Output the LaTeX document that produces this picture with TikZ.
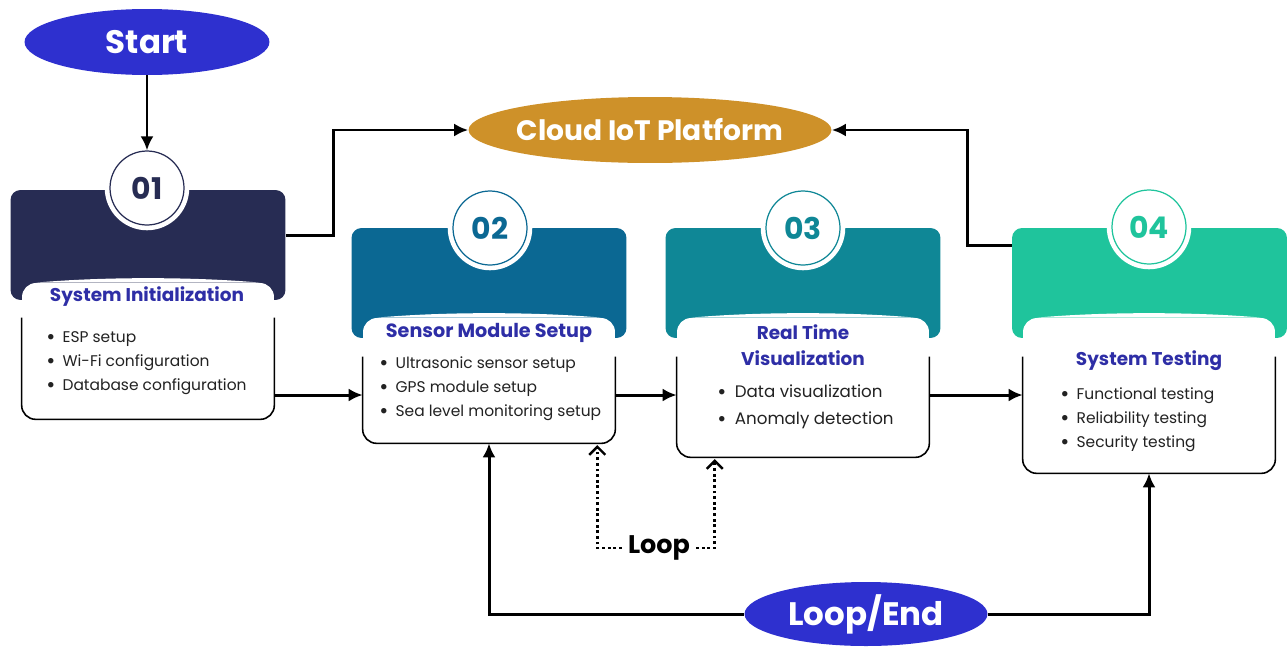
\documentclass[tikz,border=0pt]{standalone}
\usepackage{fontspec}
\setmainfont{Poppins}
\usetikzlibrary{shapes.geometric, arrows, arrows.meta, positioning, calc}
\definecolor{flowblue}{HTML}{2E30CF}
\definecolor{cloudgold}{HTML}{CE9129}
\definecolor{navy}{HTML}{272C53}
\definecolor{sensorblue}{HTML}{0B6893}
\definecolor{vizteal}{HTML}{0F8796}
\definecolor{testgreen}{HTML}{1FC49C}
\definecolor{titleblue}{HTML}{2E2EA6}
\definecolor{bodytext}{HTML}{222222}
\newcommand{\itm}{\makebox[1.05em][l]{\raisebox{-0.12em}{\fontsize{12.5}{12}\selectfont•}}}
\tikzstyle{arrow}    = [line width=1.7pt,-{Latex[length=2.8mm,width=2.6mm]}]
\tikzstyle{dotarrow} = [line width=1.6pt,dash pattern=on 1.6pt off 1.6pt,-{Straight Barb[length=1.6mm,width=3.2mm,line width=1.4pt]},shorten >=1pt]
\tikzstyle{pill}     = [ellipse, text=white, inner sep=0pt, font=\bfseries\fontsize{18.5}{20}\selectfont]
\tikzstyle{header}   = [rectangle, rounded corners=0.2cm, minimum width=5.5cm, minimum height=2.2cm, inner sep=0pt]
\tikzstyle{panel}    = [rectangle, rounded corners=0.28cm, fill=white, minimum width=5.04cm, inner sep=0pt]
\tikzstyle{badge}    = [circle, fill=white, line width=0.7pt, minimum size=1.48cm, inner sep=0pt, font=\bfseries\fontsize{17}{18}\selectfont, preaction={draw=white, line width=6pt}]
\tikzstyle{title}    = [font=\bfseries\fontsize{10.5}{14.7}\selectfont, text=titleblue, align=center]
\tikzstyle{items}    = [font=\fontsize{8.8}{13.6}\selectfont, text=bodytext, align=left, anchor=west, inner sep=0pt]
\tikzstyle{border}   = [line width=0.9pt, rounded corners=0.28cm]
\begin{document}
\begin{tikzpicture}[x=0.02cm, y=-0.02cm]
\useasboundingbox (0,0) rectangle (1287,646);

% start, platforma, konec
\node[pill, fill=flowblue, minimum width=4.9cm, minimum height=1.32cm] (start) at (147,42) {Start};
\node[pill, fill=cloudgold, minimum width=7.26cm, minimum height=1.32cm, inner xsep=-1.2cm, font=\bfseries\fontsize{16}{18}\selectfont] (cloud) at (650,130) {Cloud IoT Platform};
\node[pill, fill=flowblue, minimum width=4.86cm, minimum height=1.28cm] (loopend) at (866,614) {Loop/End};

% karta 01
\node[header, fill=navy] (h1) at (148,245) {};
\node[panel, minimum height=2.72cm] (p1) at (148,351) {};
\fill[white] ($(p1.north west)+(14,0)$) .. controls ($(p1.north west)+(80,-6)$) and ($(p1.north east)+(-80,-6)$) .. ($(p1.north east)+(-14,0)$) -- cycle;
\draw[border] ($(p1.north west)+(0,35)$) -- (p1.south west) -- (p1.south east) -- ($(p1.north east)+(0,35)$);
\node[badge, draw=navy, text=navy] (n1) at (147,188) {01};
\node[title] (t1) at (147,297) {System Initialization};
\node[items] (l1) at (46,363) {\itm ESP setup\\ \itm Wi-Fi configuration\\ \itm Database configuration};

% karta 02
\node[header, fill=sensorblue] (h2) at (489,283) {};
\node[panel, minimum height=2.5cm] (p2) at (489,380.5) {};
\fill[white] ($(p2.north west)+(14,0)$) .. controls ($(p2.north west)+(80,-6)$) and ($(p2.north east)+(-80,-6)$) .. ($(p2.north east)+(-14,0)$) -- cycle;
\draw[border] ($(p2.north west)+(0,39)$) -- (p2.south west) -- (p2.south east) -- ($(p2.north east)+(0,39)$);
\node[badge, draw=sensorblue, text=sensorblue] (n2) at (490,228) {02};
\node[title, font=\bfseries\fontsize{10.9}{14.7}\selectfont] (t2) at (489,333) {Sensor Module Setup};
\node[items] (l2) at (379,389) {\itm Ultrasonic sensor setup\\ \itm GPS module setup\\ \itm Sea level monitoring setup};

% karta 03
\node[header, fill=vizteal] (h3) at (803,283) {};
\node[panel, minimum height=2.78cm] (p3) at (803,387.5) {};
\fill[white] ($(p3.north west)+(14,0)$) .. controls ($(p3.north west)+(80,-6)$) and ($(p3.north east)+(-80,-6)$) .. ($(p3.north east)+(-14,0)$) -- cycle;
\draw[border] ($(p3.north west)+(0,39)$) -- (p3.south west) -- (p3.south east) -- ($(p3.north east)+(0,39)$);
\node[badge, draw=vizteal, text=vizteal] (n3) at (803,228) {03};
\node[title] (t3) at (803,345) {Real Time\\Visualization};
\node[items, font=\fontsize{9.5}{15.3}\selectfont] (l3) at (717,406.5) {\itm Data visualization\\ \itm Anomaly detection};

% karta 04
\node[header, fill=testgreen] (h4) at (1149.5,283) {};
\node[panel, minimum height=3.1cm] (p4) at (1149,395.5) {};
\fill[white] ($(p4.north west)+(14,0)$) .. controls ($(p4.north west)+(80,-6)$) and ($(p4.north east)+(-80,-6)$) .. ($(p4.north east)+(-14,0)$) -- cycle;
\draw[border] ($(p4.north west)+(0,39)$) -- (p4.south west) -- (p4.south east) -- ($(p4.north east)+(0,39)$);
\node[badge, draw=testgreen, text=testgreen] (n4) at (1149,227) {04};
\node[title] (t4) at (1149,361) {System Testing};
\node[items] (l4) at (1060,420) {\itm Functional testing\\ \itm Reliability testing\\ \itm Security testing};

% hlavni tok
\coordinate (flow) at (0,395);
\draw[arrow] (start) -- (n1);
\draw[arrow] (p1.east |- flow) -- (p2.west |- flow);
\draw[arrow] (p2.east |- flow) -- (p3.west |- flow);
\draw[arrow] (p3.east |- flow) -- (p4.west |- flow);

% napojeni na platformu
\draw[arrow] ([yshift=0.2cm]h1.east) -- ++(48,0) |- (cloud.west);
\draw[arrow] ([yshift=0.76cm]h4.west) -- ++(-44,0) |- (cloud.east);

% smycky
\draw[arrow] (loopend.west) -| (p2.south);
\draw[arrow] (loopend.east) -| (p4.south);
\node[font=\bfseries\fontsize{14.5}{16}\selectfont] (looptxt) at (659,548) {Loop};
\draw[dotarrow] (looptxt.west) -| ($(p2.south east)+(-18,0)$);
\draw[dotarrow] (looptxt.east) -| ($(p3.south west)+(38,0)$);

\end{tikzpicture}
\end{document}
